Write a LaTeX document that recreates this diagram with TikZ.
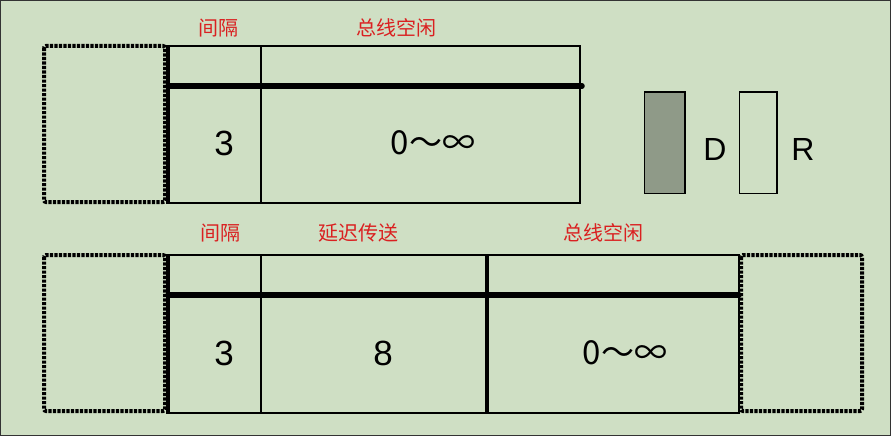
\documentclass[tikz,border=0pt]{standalone}
\usepackage{fontspec}
\setmainfont{Liberation Sans}
\newfontfamily\cjk{Noto Sans CJK SC}
\definecolor{bg}{RGB}{207,223,196}
\definecolor{lbl}{RGB}{218,32,32}
\definecolor{dgray}{RGB}{143,154,136}
\begin{document}
\begin{tikzpicture}[x=1pt,y=-1pt,
  thin line/.style={line width=1.5pt},
  thick bar/.style={line width=5.5pt,line cap=round},
  dotbox/.style={line width=4pt,line cap=butt,rounded corners=2pt,dash pattern=on 3.2pt off 1.3pt},
  lab/.style={text=lbl,font=\cjk\fontsize{20}{20}\selectfont,inner sep=0pt},
  num/.style={font=\fontsize{35}{35}\selectfont,inner sep=0pt},
  rng/.style={font=\cjk\fontsize{33}{33}\selectfont,inner sep=0pt}]
\fill[bg] (0,0) rectangle (891,436);
\useasboundingbox (0,0) rectangle (891,436);
\draw[line width=1pt,black!80] (0.5,0.5) rectangle (890.5,435.5);
% ---------- top ----------
\draw[thin line] (167,46) rectangle (580,203);
\draw[thin line] (261,46) -- (261,203);
\draw[thick bar] (168,86) -- (582,86);
\draw[dotbox] (44,46) rectangle (165,202);
\draw[line width=3pt] (168,46) -- (168,203);
\node[lab] (t1) at (218,28) {间隔};
\node[lab] (t2) at (396,28) {总线空闲};
\node[num] (t3) at (224,143) {3};
\node[rng] (t4) at (433,143) {0～∞};
% D / R
\draw[line width=1.5pt,fill=dgray] (644.5,92) rectangle (685,193.5);
\node[font=\fontsize{32}{32}\selectfont,inner sep=0pt] (d) at (715,149) {D};
\draw[line width=1.5pt] (739.5,92) rectangle (777,193.5);
\node[font=\fontsize{32}{32}\selectfont,inner sep=0pt] (r) at (803,149) {R};
% ---------- bottom ----------
\draw[thin line] (167,255) rectangle (739,413);
\draw[thin line] (261,255) -- (261,413);
\draw[line width=3.5pt] (487,255) -- (487,413);
\draw[thick bar] (168,295) -- (739,295);
\draw[dotbox] (44,255) rectangle (165,411);
\draw[line width=3pt] (168,255) -- (168,413);
\draw[dotbox] (741,255) rectangle (862,411);
\node[lab] (b1) at (220,233) {间隔};
\node[lab] (b2) at (358,233) {延迟传送};
\node[lab] (b3) at (603,233) {总线空闲};
\node[num] (b4) at (224,353) {3};
\node[num] (b5) at (383,353) {8};
\node[rng] (b6) at (625,353) {0～∞};
\end{tikzpicture}
\end{document}
